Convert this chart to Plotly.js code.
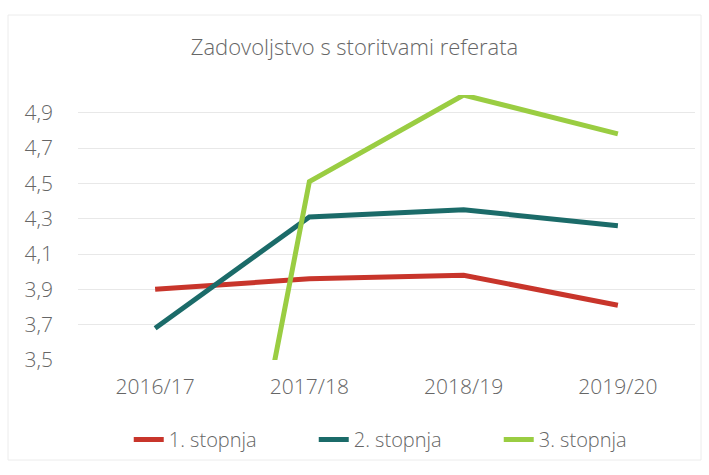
<!DOCTYPE html>
<html>
<head>
<meta charset="utf-8">
<script src="https://cdn.plot.ly/plotly-3.0.1.min.js"></script>
<style>html,body{margin:0;padding:0;background:#fff;}#chart{width:709px;height:475px;}</style>
</head>
<body>
<div id="chart"></div>
<script>
const categories = ["2016/17", "2017/18", "2018/19", "2019/20"];
const seriesNames = ["1. stopnja", "2. stopnja", "3. stopnja"];
const stopnja1 = [3.90, 3.96, 3.98, 3.81];
const stopnja2 = [3.68, 4.31, 4.35, 4.26];
const stopnja3 = [0, 4.51, 5.00, 4.78];
const yTicks = [3.5, 3.7, 3.9, 4.1, 4.3, 4.5, 4.7, 4.9];
const colors = ["#c8352b", "#1b6b69", "#9acd42"];

const values = [stopnja1, stopnja2, stopnja3];
const traces = values.map((v, i) => ({
  type: "scatter",
  mode: "lines",
  x: categories,
  y: v,
  name: seriesNames[i],
  line: {color: colors[i], width: 5},
  hoverinfo: "x+y+name"
}));

const txt = "#666666";
const layout = {
  width: 709, height: 475,
  margin: {l: 78, r: 14, t: 95, b: 115},
  paper_bgcolor: "#ffffff",
  plot_bgcolor: "#ffffff",
  separators: ",.",
  font: {family: "Open Sans, sans-serif", color: txt, size: 20, weight: 300},
  title: {
    text: "Zadovoljstvo s storitvami referata",
    font: {family: "Open Sans, sans-serif", size: 22, color: txt, weight: 300},
    x: 0.5, xanchor: "center", y: 0.9, yanchor: "middle", yref: "container"
  },
  xaxis: {
    type: "category",
    range: [-0.5, 3.5],
    showgrid: false, zeroline: false, showline: false,
    ticks: "", ticklabelstandoff: 12,
    tickfont: {size: 21, color: txt, weight: 300}
  },
  yaxis: {
    range: [3.5, 5.0],
    tickvals: yTicks,
    tickformat: ".1f",
    showgrid: true, gridcolor: "#e8e8e8", gridwidth: 1,
    zeroline: false, showline: false,
    ticks: "", ticklabelstandoff: 24,
    tickfont: {size: 21, color: txt, weight: 300}
  },
  showlegend: true,
  legend: {
    orientation: "h",
    x: 0.532, xanchor: "center",
    y: -0.30, yanchor: "middle",
    font: {size: 20, color: txt, weight: 300},
    itemwidth: 30,
    entrywidth: 140, entrywidthmode: "pixels",
    tracegroupgap: 0
  },
  shapes: [{
    type: "rect", xref: "paper", yref: "paper",
    x0: -70 / 617, x1: 1.0 + 6 / 617, y0: -100 / 265, y1: 1.0 + 80 / 265,
    line: {color: "#ececec", width: 1}, fillcolor: "rgba(0,0,0,0)", layer: "below"
  }]
};

Plotly.newPlot("chart", traces, layout, {displayModeBar: false, staticPlot: true});
</script>
</body>
</html>
